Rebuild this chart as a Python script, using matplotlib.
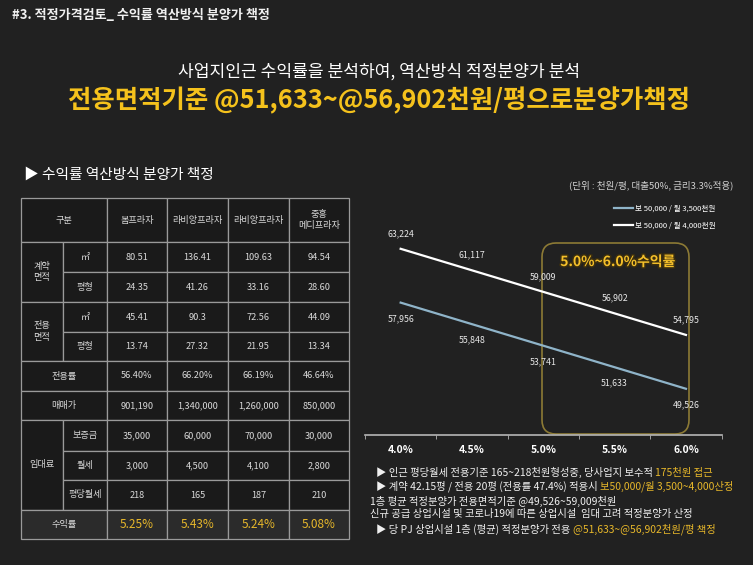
import matplotlib
matplotlib.use("Agg")
import matplotlib.pyplot as plt
import matplotlib.patheffects as pe
from matplotlib.patches import Rectangle, FancyBboxPatch
import numpy as np

plt.rcParams["font.family"] = ["Noto Sans CJK KR", "DejaVu Sans"]

# ---- data -------------------------------------------------------------
products = ["봄프라자", "라비앙프라자", "라비앙프라자", "중흥\n메디프라자"]
contract_m2 = ["80.51", "136.41", "109.63", "94.54"]
contract_py = ["24.35", "41.26", "33.16", "28.60"]
excl_m2 = ["45.41", "90.3", "72.56", "44.09"]
excl_py = ["13.74", "27.32", "21.95", "13.34"]
excl_ratio = ["56.40%", "66.20%", "66.19%", "46.64%"]
sale_price = ["901,190", "1,340,000", "1,260,000", "850,000"]
deposit = ["35,000", "60,000", "70,000", "30,000"]
monthly_rent = ["3,000", "4,500", "4,100", "2,800"]
rent_per_py = ["218", "165", "187", "210"]
yield_rate = ["5.25%", "5.43%", "5.24%", "5.08%"]

rates = ["4.0%", "4.5%", "5.0%", "5.5%", "6.0%"]
price_3500 = [57956, 55848, 53741, 51633, 49526]
price_4000 = [63224, 61117, 59009, 56902, 54795]
series_names = ["보 50,000 / 월 3,500천원", "보 50,000 / 월 4,000천원"]

notes = [
    ("▶ 인근 평당월세 전용기준 165~218천원형성중, 당사업지 보수적 ", "175천원 접근"),
    ("▶ 계약 42.15평 / 전용 20평 (전용률 47.4%) 적용시 ", "보50,000/월 3,500~4,000산정"),
    ("1층 평균 적정분양가 전용면적기준 @49,526~59,009천원", ""),
    ("신규 공급 상업시설 및 코로나19에 따른 상업시설  임대 고려 적정분양가 산정", ""),
    ("▶ 당 PJ 상업시설 1층 (평균) 적정분양가 전용 ", "@51,633~@56,902천원/평 책정"),
]

BG = "#212121"
YELLOW = "#f5c21c"
GOLD = "#e8b82a"
TXT = "#d8d8d8"

fig = plt.figure(figsize=(7.53, 5.65), dpi=100, facecolor=BG)

# full-figure overlay in pixel coordinates for texts and the table
ov = fig.add_axes([0, 0, 1, 1])
ov.set_xlim(0, 753)
ov.set_ylim(565, 0)
ov.axis("off")

ov.text(12, 15, "#3. 적정가격검토_ 수익률 역산방식 분양가 책정", color="#f0f0f0",
        fontsize=9.4, fontweight="bold", va="center")
ov.text(379, 72, "사업지인근 수익률을 분석하여, 역산방식 적정분양가 분석", color="white",
        fontsize=12.3, ha="center", va="center")
ov.text(379, 101, "전용면적기준 @51,633~@56,902천원/평으로분양가책정", color=YELLOW,
        fontsize=18.3, fontweight="bold", ha="center", va="center")
ov.text(24, 175, "▶ 수익률 역산방식 분양가 책정", color="white", fontsize=10.6, va="center")

# ---- table ------------------------------------------------------------
col_edges = [21, 63, 107, 167, 228, 289, 349]
row_edges = [198, 242, 272, 302, 332, 361, 391, 420, 451, 480, 510, 539]


def cell(r0, r1, c0, c1, text, color=TXT, size=6.6, face="#1a1a1a", weight="normal"):
    x0, x1 = col_edges[c0], col_edges[c1]
    y0, y1 = row_edges[r0], row_edges[r1]
    ov.add_patch(Rectangle((x0, y0), x1 - x0, y1 - y0, facecolor=face,
                           edgecolor="#9a9a9a", linewidth=0.9))
    ov.text((x0 + x1) / 2, (y0 + y1) / 2, text, color=color, fontsize=size,
            ha="center", va="center", linespacing=1.4, fontweight=weight)


cell(0, 1, 0, 2, "구분")
for i, p in enumerate(products):
    cell(0, 1, 2 + i, 3 + i, p)

cell(1, 3, 0, 1, "계약\n면적")
cell(1, 2, 1, 2, "㎡")
cell(2, 3, 1, 2, "평형")
cell(3, 5, 0, 1, "전용\n면적")
cell(3, 4, 1, 2, "㎡")
cell(4, 5, 1, 2, "평형")
cell(5, 6, 0, 2, "전용률")
cell(6, 7, 0, 2, "매매가")
cell(7, 10, 0, 1, "임대료")
cell(7, 8, 1, 2, "보증금")
cell(8, 9, 1, 2, "월세")
cell(9, 10, 1, 2, "평당월세")
cell(10, 11, 0, 2, "수익률", face="#2b2b2b")

body = [contract_m2, contract_py, excl_m2, excl_py, excl_ratio,
        sale_price, deposit, monthly_rent, rent_per_py]
for r, vals in enumerate(body, start=1):
    for i, v in enumerate(vals):
        cell(r, r + 1, 2 + i, 3 + i, v)
for i, v in enumerate(yield_rate):
    cell(10, 11, 2 + i, 3 + i, v, color=GOLD, size=8.5, face="#2b2b2b")

# ---- line chart -------------------------------------------------------
ax = fig.add_axes([365 / 753, (565 - 435) / 565, (721.6 - 365) / 753, 235 / 565])
ax.set_facecolor("none")
x = np.arange(len(rates))
ax.plot(x, price_3500, color="#8fb4c9", lw=1.6, label=series_names[0])
ax.plot(x, price_4000, color="white", lw=1.6, label=series_names[1])
for xi, v in zip(x, price_3500):
    ax.annotate(f"{v:,}", (xi, v), xytext=(0, -11.5), textcoords="offset points",
                ha="center", va="center", color="#e8e8e8", fontsize=6.3)
for xi, v in zip(x, price_4000):
    ax.annotate(f"{v:,}", (xi, v), xytext=(0, 11), textcoords="offset points",
                ha="center", va="center", color="#e8e8e8", fontsize=6.3)

ax.set_xlim(-0.5, 4.5)
ax.set_ylim(45000, 68000)
ax.set_yticks([])
for s in ["top", "left", "right"]:
    ax.spines[s].set_visible(False)
ax.spines["bottom"].set_color("#b5b5b5")
ax.spines["bottom"].set_linewidth(1.2)
ax.set_xticks(x, rates)
ax.set_xticks(np.arange(-0.5, 5, 1), minor=True)
ax.tick_params(axis="x", which="major", length=0, pad=7, labelsize=7.5, labelcolor="white")
ax.tick_params(axis="x", which="minor", length=3, color="#b5b5b5", direction="out")
for lab in ax.get_xticklabels():
    lab.set_fontweight("bold")

ax.legend(loc="upper left", bbox_to_anchor=(614 / 753, 1 - 205 / 565),
          bbox_transform=fig.transFigure, frameon=False, fontsize=5.5,
          labelcolor="white", handlelength=2.5, handletextpad=0.3,
          labelspacing=1.15, borderpad=0, borderaxespad=0)

ov.text(733, 185, "(단위 : 천원/평, 대출50%, 금리3.3%적용)", color="#d0d0d0",
        fontsize=6.9, ha="right", va="center")

# highlighted 5.0% ~ 6.0% region
ov.add_patch(FancyBboxPatch((542, 243), 147, 191, boxstyle="round,pad=0,rounding_size=14",
                            facecolor="none", edgecolor="#8c7a35", linewidth=1.2))
ov.text(618, 262, "5.0%~6.0%수익률", color="#f5c02a", fontsize=10, fontweight="bold",
        ha="center", va="center",
        path_effects=[pe.withStroke(linewidth=2.2, foreground="#3a2e10")])

# ---- notes ------------------------------------------------------------
fig.canvas.draw()
renderer = fig.canvas.get_renderer()
note_pos = [(376, 472.7), (376, 486.7), (370, 501), (370, 514.3), (376, 529.3)]
for (white_part, yellow_part), (nx, ny) in zip(notes, note_pos):
    t = ov.text(nx, ny, white_part, color="#f0f0f0", fontsize=7.45, va="center")
    if yellow_part:
        bb = t.get_window_extent(renderer)
        x2 = ov.transData.inverted().transform((bb.x1, bb.y0))[0]
        ov.text(x2, ny, yellow_part, color=GOLD, fontsize=7.45, va="center")

fig.savefig("out.png", dpi=100, facecolor=BG)
